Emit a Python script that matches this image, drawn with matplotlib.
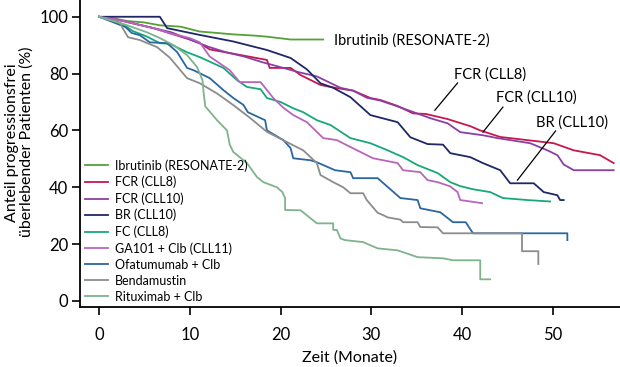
import matplotlib
matplotlib.use("Agg")
import matplotlib.pyplot as plt

plt.rcParams['font.family'] = ['Lato', 'DejaVu Sans']

# Kaplan-Meier curves (months, % progression free)
ibru_t = [0, 1.5, 3.1, 5, 6.7, 9, 11.1, 13, 14.8, 17, 18.5, 21.1, 24.7]
ibru_s = [100, 99.5, 98.5, 98, 97, 96.5, 94.8, 94.3, 93.8, 93.4, 93, 92, 92]

fcr8_t = [0, 2, 4, 6, 8, 10, 11.1, 12.2, 14.8, 18.5, 18.8, 21.1, 22.2, 24.4, 26, 28, 29.9, 31,
          32.9, 34.6, 36, 38.4, 40.9, 42, 44.2, 50.1, 52.3, 55.2, 56.7]
fcr8_s = [100, 99, 97.5, 96, 94, 92, 90.7, 88.5, 87, 84.8, 82, 82, 79.5, 76, 75, 74, 71.4, 70.7,
          68.6, 66, 65.8, 64, 61.5, 60, 57.7, 55.5, 53, 51.3, 48.5]

fcr10_t = [0, 2, 4, 6, 8, 10, 12, 14, 16, 18, 20.3, 22, 24, 26.6, 28, 29.5, 31, 32.4, 34.6, 36.5,
           38.4, 39.8, 42.3, 43.9, 47.5, 49.4, 50.5, 51.2, 52.3, 56.7]
fcr10_s = [100, 99, 97.5, 96, 94.5, 92, 89.5, 87.5, 86, 84, 82, 80.5, 79, 75, 74, 71.5, 70.5, 69,
           66.5, 64.3, 62.5, 59.4, 58.3, 57.3, 55.5, 53, 51.3, 48, 46, 46]

br_t = [0, 6.7, 7.5, 11.1, 14.8, 18.5, 21.1, 22.9, 24.4, 25.8, 27.7, 29.9, 32.9, 34.3, 36.2, 37.9,
        38.7, 40.9, 42.3, 44.2, 45.3, 47.9, 49, 50.5, 50.8, 51.2]
br_s = [100, 100, 96, 93.6, 91.3, 88.3, 85.5, 81.5, 76.6, 75, 71.7, 65.4, 62.9, 57.6, 55.2, 55,
        52, 50.6, 48.5, 46, 41.4, 41.4, 38.3, 37.2, 35.5, 35.5]

fc_t = [0, 2.6, 3.7, 5.3, 6.7, 7.8, 9.7, 11.1, 13.7, 15.2, 16.3, 17.8, 18.5, 20, 21.4, 22.5, 24,
        25.5, 27.7, 29.9, 31.8, 33.5, 35.1, 37.3, 38.7, 39.8, 41.2, 43.1, 44.5, 47.2, 49.7]
fc_s = [100, 97.5, 95, 93, 90.7, 90.5, 87.5, 85.8, 82, 77.7, 75.3, 74.5, 71.4, 70, 67.8, 66.4,
        63.6, 61.9, 57.3, 55.5, 53, 50.6, 47.8, 45, 41.8, 40.4, 39.3, 38.3, 36.2, 35.5, 35]

ga_t = [0, 2, 4, 6, 8, 10, 11.1, 12.2, 14.4, 15.5, 17.8, 19.2, 20.3, 21.4, 22.9, 24.7, 26.2,
        27.3, 29.5, 30.2, 32.9, 33.5, 35.4, 36.2, 37.3, 38.7, 39.5, 39.8, 42.2]
ga_s = [100, 99, 97.5, 96, 94, 92.5, 91, 86, 81.2, 77, 77, 71.4, 68, 65.4, 62.9, 57.3, 56.6,
        54.8, 51.3, 50.2, 48.5, 46, 45.3, 42.5, 41.8, 40.3, 38.3, 35.5, 34.4]

ofa_t = [0, 2.9, 3.6, 4.5, 5.6, 7.5, 8.6, 9.7, 10.4, 12.2, 13.7, 14.8, 15.9, 16.4, 18.3, 18.5,
         20.3, 21.1, 21.4, 23.3, 24, 26, 27.7, 28, 30.7, 33.2, 35.1, 35.4, 37.6, 39, 40.4, 41.2,
         51.6, 51.6]
ofa_s = [100, 96.4, 94.3, 93.5, 91, 90.7, 87.6, 82, 81.2, 78.4, 74.2, 71.4, 69, 66.4, 63.6, 60,
         56.6, 53.8, 50.2, 49.5, 48.8, 46, 45.3, 43.2, 43.2, 36.2, 35.5, 32.6, 31.2, 27.7, 27.7,
         23.8, 23.8, 21.4]

benda_t = [0, 2.3, 2.6, 3.2, 4.5, 6.4, 7.8, 9.7, 11.1, 13, 14.8, 16.6, 18.5, 20.7, 22.5, 24,
           24.4, 25.8, 26.9, 27.7, 29.1, 29.5, 30.7, 31.3, 31.8, 33.2, 33.5, 35.1, 35.4, 37.3,
           37.9, 46.6, 46.6, 48.4, 48.4]
benda_s = [100, 98, 96, 92.8, 91.8, 89.3, 85.6, 78.4, 76.6, 73, 68.9, 64.5, 59.5, 55.9, 53,
           48.5, 44.3, 41.8, 40, 37.9, 37.9, 35.5, 31, 30.2, 29.4, 28.6, 27.7, 27.7, 26, 25.9,
           23.8, 23.8, 17.5, 17.5, 13]

rit_t = [0, 3.1, 5.3, 6.7, 8.2, 9.7, 10.8, 11.4, 11.5, 11.7, 13, 14.1, 14.4, 14.8, 16.3, 17.4,
         18.1, 19.6, 20.2, 20.5, 20.5, 22.2, 24, 25.8, 25.8, 26.2, 26.6, 27.1, 29.1, 30.7, 32.9,
         35.1, 37.9, 39, 42, 42, 43.1]
rit_s = [100, 97, 94.5, 92.5, 90, 86.5, 82.3, 77.7, 74, 68.5, 63.6, 60, 55, 52.4, 48.5, 43.6,
         41.8, 40, 38.3, 36.2, 32, 31.9, 27.3, 27.3, 25, 25, 22, 21.4, 20.7, 18.5, 17.8, 15.4,
         15, 14.3, 14.3, 7.6, 7.6]

curves = [
    ("Ibrutinib (RESONATE-2)", ibru_t, ibru_s, "#55a137"),
    ("FCR (CLL8)", fcr8_t, fcr8_s, "#c8174b"),
    ("FCR (CLL10)", fcr10_t, fcr10_s, "#8a3fa6"),
    ("BR (CLL10)", br_t, br_s, "#1f2766"),
    ("FC (CLL8)", fc_t, fc_s, "#17a87a"),
    ("GA101 + Clb (CLL11)", ga_t, ga_s, "#b766bb"),
    ("Ofatumumab + Clb", ofa_t, ofa_s, "#2a66a2"),
    ("Bendamustin", benda_t, benda_s, "#8c8c8c"),
    ("Rituximab + Clb", rit_t, rit_s, "#7fb38c"),
]

fig = plt.figure(figsize=(6.2, 3.67), dpi=100)
ax = fig.add_axes([0.129, 0.163, 0.871, 0.837])

for name, t, s, col in curves:
    ax.plot(t, s, color=col, lw=1.3, label=name)

ax.set_xlim(-2.1, 57.4)
ax.set_ylim(-2.2, 105.9)
ax.set_xticks([0, 10, 20, 30, 40, 50])
ax.set_yticks([0, 20, 40, 60, 80, 100])
ax.spines['top'].set_visible(False)
ax.spines['right'].set_visible(False)
ax.spines['left'].set_linewidth(1.3)
ax.spines['bottom'].set_linewidth(1.3)
ax.tick_params(direction='out', length=6, width=1.2, labelsize=12)
ax.tick_params(axis='x', pad=8)
ax.tick_params(axis='y', pad=2.5)

ax.set_xlabel("Zeit (Monate)", fontsize=11.5)
ax.xaxis.set_label_coords(0.5, -0.14)
ax.set_ylabel("Anteil progressionsfrei\nüberlebender Patienten (%)", fontsize=11.5, linespacing=1.1)
ax.yaxis.set_label_coords(-0.085, 0.537)

ax.legend(loc='lower left', bbox_to_anchor=(0.009, 0.015), frameon=False, fontsize=9,
          handlelength=1.85, handletextpad=0.56, labelspacing=0.32, borderpad=0,
          borderaxespad=0)

# curve labels with leader lines
ax.text(25.9, 91.8, "Ibrutinib (RESONATE-2)", fontsize=10.5, va='center')
ax.text(39.1, 79.8, "FCR (CLL8)", fontsize=10.5, va='center')
ax.plot([39.5, 37.0], [76.7, 67.1], color='black', lw=0.9)
ax.text(43.7, 71.7, "FCR (CLL10)", fontsize=10.5, va='center')
ax.plot([44.5, 42.3], [68.2, 59.4], color='black', lw=0.9)
ax.text(48.1, 62.9, "BR (CLL10)", fontsize=10.5, va='center')
ax.plot([50.3, 46.1], [59.8, 42.5], color='black', lw=0.9)

fig.savefig("out.png", dpi=100)
